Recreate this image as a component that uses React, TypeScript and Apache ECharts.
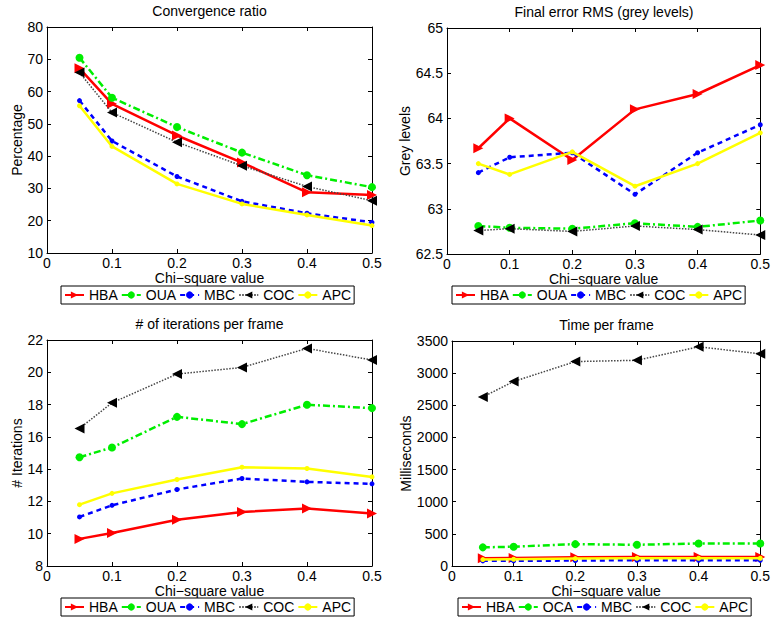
import React, { useEffect, useRef } from "react";
import * as echarts from "echarts";

const xValues = [0.05, 0.1, 0.2, 0.3, 0.4, 0.5];

// Convergence ratio (%)
const convHBA = [67.2, 56.2, 46.4, 38.0, 28.8, 28.0];
const convOUA = [70.5, 58.1, 49.0, 41.1, 34.1, 30.4];
const convMBC = [57.2, 44.7, 33.7, 26.0, 22.3, 19.5];
const convCOC = [65.9, 53.5, 44.3, 37.0, 30.6, 26.2];
const convAPC = [55.6, 43.0, 31.4, 25.2, 21.8, 18.5];

// Final error RMS (grey levels)
const rmsHBA = [63.67, 64.0, 63.54, 64.1, 64.27, 64.59];
const rmsOUA = [62.81, 62.79, 62.78, 62.84, 62.8, 62.87];
const rmsMBC = [63.4, 63.57, 63.62, 63.16, 63.62, 63.93];
const rmsCOC = [62.76, 62.78, 62.75, 62.81, 62.77, 62.71];
const rmsAPC = [63.5, 63.38, 63.63, 63.25, 63.5, 63.84];

// # of iterations per frame
const iterHBA = [9.68, 10.05, 10.87, 11.35, 11.56, 11.25];
const iterOUA = [14.74, 15.34, 17.24, 16.79, 17.99, 17.78];
const iterMBC = [11.04, 11.76, 12.74, 13.42, 13.21, 13.09];
const iterCOC = [16.52, 18.11, 19.89, 20.3, 21.48, 20.76];
const iterAPC = [11.8, 12.5, 13.36, 14.12, 14.04, 13.52];

// Time per frame (ms)
const timeHBA = [120, 125, 135, 140, 140, 140];
const timeOCA = [290, 300, 340, 330, 350, 350];
const timeMBC = [80, 80, 85, 90, 90, 90];
const timeCOC = [2630, 2870, 3180, 3200, 3410, 3300];
const timeAPC = [100, 105, 115, 120, 120, 120];

const titles = [
  "Convergence ratio",
  "Final error RMS (grey levels)",
  "# of iterations per frame",
  "Time per frame",
];
const yNames = ["Percentage", "Grey levels", "# Iterations", "Milliseconds"];
const xName = "Chi\u2212square value";
const namesA = ["HBA", "OUA", "MBC", "COC", "APC"];
const namesB = ["HBA", "OCA", "MBC", "COC", "APC"];

const FONT = "'Liberation Sans', Arial, Helvetica, sans-serif";
const FS = 14;

const grids = [
  { left: 47, top: 27, width: 325, height: 226 },
  { left: 447, top: 28, width: 314, height: 226 },
  { left: 47, top: 340, width: 325, height: 226 },
  { left: 452, top: 341, width: 309, height: 225 },
];
const yRanges = [
  { min: 10, max: 80, interval: 10 },
  { min: 62.5, max: 65, interval: 0.5 },
  { min: 8, max: 22, interval: 2 },
  { min: 0, max: 3500, interval: 500 },
];
const legendPos = [
  { left: 61, top: 286 },
  { left: 452, top: 286 },
  { left: 61, top: 598 },
  { left: 458, top: 598 },
];
const yNameGaps = [23, 29, 23, 37];

const styleSpecs = [
  { color: "#ff0000", sym: "#ff0000", width: 2.5, type: "solid", symbol: "triangle", rotate: -90, size: 10 },
  { color: "#00ee00", sym: "#00ee00", width: 2.5, type: [7, 3, 2, 3], symbol: "circle", rotate: 0, size: 8 },
  { color: "#0000ff", sym: "#0000ff", width: 2.5, type: [5, 4], symbol: "circle", rotate: 0, size: 5 },
  { color: "#444444", sym: "#000000", width: 1.5, type: [1.5, 1.5], symbol: "triangle", rotate: 90, size: 10 },
  { color: "#ffff00", sym: "#ffff00", width: 2.5, type: "solid", symbol: "circle", rotate: 0, size: 5 },
];

export default function App() {
  const ref = useRef<HTMLDivElement>(null);
  useEffect(() => {
    if (!ref.current) return;
    const chart = echarts.init(ref.current, null, { renderer: "svg" });
    const dataSets = [
      [convHBA, convOUA, convMBC, convCOC, convAPC],
      [rmsHBA, rmsOUA, rmsMBC, rmsCOC, rmsAPC],
      [iterHBA, iterOUA, iterMBC, iterCOC, iterAPC],
      [timeHBA, timeOCA, timeMBC, timeCOC, timeAPC],
    ];
    const xAxis: any[] = [];
    const yAxis: any[] = [];
    const series: any[] = [];
    const graphic: any[] = [];
    const legend: any[] = [];
    const axisLine = { show: true, onZero: false, lineStyle: { color: "#000", width: 1 } };
    const axisTick = { show: true, inside: true, length: 4, lineStyle: { color: "#000" } };
    const fmt = (v: number) => String(Math.round(v * 1000) / 1000);
    grids.forEach((g, gi) => {
      xAxis.push({
        type: "value",
        gridIndex: gi,
        position: "bottom",
        min: 0,
        max: 0.5,
        interval: 0.1,
        axisLine,
        axisTick,
        splitLine: { show: false },
        axisLabel: { color: "#000", fontSize: FS, fontFamily: FONT, margin: 3, formatter: fmt },
        name: xName,
        nameLocation: "middle",
        nameGap: 17,
        nameTextStyle: { color: "#000", fontSize: FS, fontFamily: FONT, lineHeight: 14 },
      });
      xAxis.push({
        type: "value",
        gridIndex: gi,
        position: "top",
        min: 0,
        max: 0.5,
        interval: 0.1,
        axisLine,
        axisTick,
        splitLine: { show: false },
        axisLabel: { show: false },
      });
      const yr = yRanges[gi];
      yAxis.push({
        type: "value",
        gridIndex: gi,
        position: "left",
        min: yr.min,
        max: yr.max,
        interval: yr.interval,
        axisLine,
        axisTick,
        splitLine: { show: false },
        axisLabel: { color: "#000", fontSize: FS, fontFamily: FONT, margin: 4, formatter: fmt },
        name: yNames[gi],
        nameLocation: "middle",
        nameGap: yNameGaps[gi],
        nameTextStyle: { color: "#000", fontSize: FS, fontFamily: FONT },
      });
      yAxis.push({
        type: "value",
        gridIndex: gi,
        position: "right",
        min: yr.min,
        max: yr.max,
        interval: yr.interval,
        axisLine,
        axisTick,
        splitLine: { show: false },
        axisLabel: { show: false },
      });
      const names = gi === 3 ? namesB : namesA;
      dataSets[gi].forEach((vals, si) => {
        const s = styleSpecs[si];
        series.push({
          type: "line",
          name: names[si],
          xAxisIndex: gi * 2,
          yAxisIndex: gi * 2,
          data: xValues.map((x, i) => [x, vals[i]]),
          symbol: s.symbol,
          symbolSize: s.size,
          symbolRotate: s.rotate,
          showAllSymbol: true,
          lineStyle: { color: s.color, width: s.width, type: s.type },
          itemStyle: { color: s.sym, borderColor: s.sym, borderWidth: 0 },
          z: 2 + si,
        });
      });
      graphic.push({
        type: "text",
        x: g.left + g.width / 2,
        y: g.top - 23,
        style: {
          text: titles[gi],
          fill: "#000",
          font: `${FS}px ${FONT}`,
          textAlign: "center",
        },
      });
      legend.push({
        left: legendPos[gi].left,
        top: legendPos[gi].top,
        data: names,
        orient: "horizontal",
        itemWidth: 19,
        itemHeight: 9,
        itemGap: 3,
        padding: [2, 3],
        borderColor: "#000",
        borderWidth: 1,
        backgroundColor: "#fff",
        textStyle: { color: "#000", fontSize: FS, fontFamily: FONT },
        selectedMode: false,
      });
    });
    chart.setOption({
      animation: false,
      backgroundColor: "#fff",
      grid: grids.map((g) => ({ ...g, containLabel: false })),
      xAxis,
      yAxis,
      series,
      legend,
      graphic,
    });
    return () => chart.dispose();
  }, []);
  return (
    <div
      ref={ref}
      style={{ position: "fixed", left: 0, top: 0, width: 773, height: 626, background: "#fff" }}
    />
  );
}
